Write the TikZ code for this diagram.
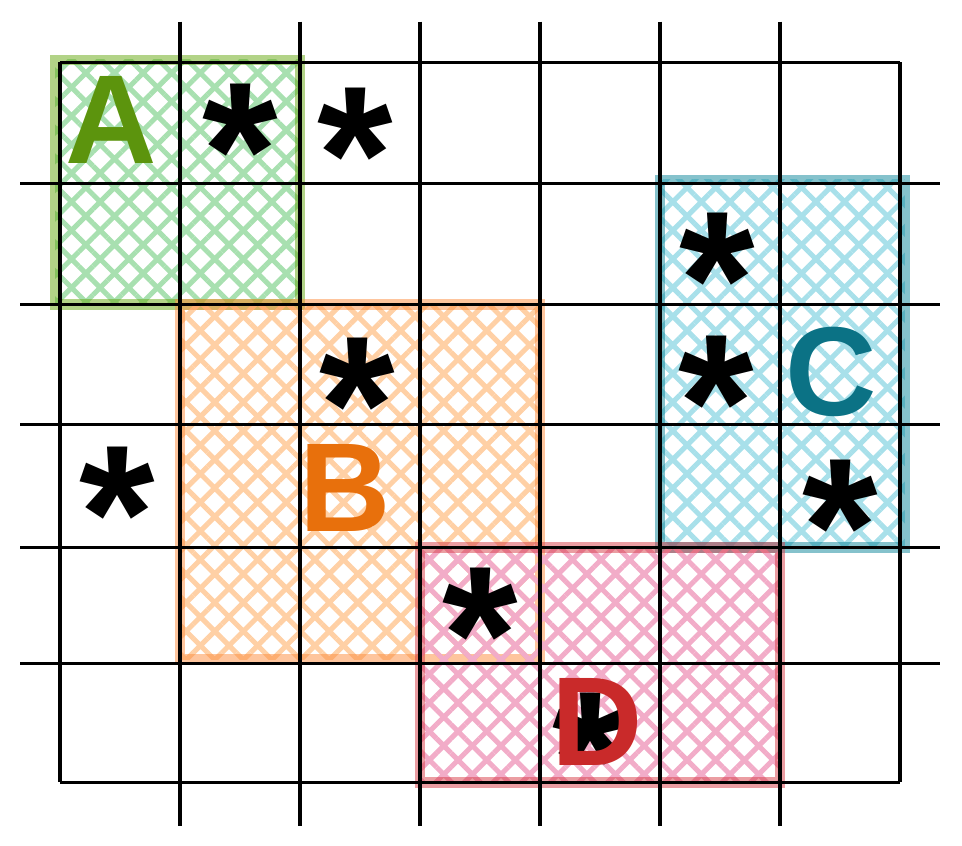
\documentclass[tikz,border=0pt]{standalone}
\definecolor{gridGreenFill}{RGB}{168,224,176}
\definecolor{gridGreenEdge}{RGB}{102,168,15}
\definecolor{gridGreenText}{RGB}{92,148,13}
\definecolor{gridOrangeFill}{RGB}{255,208,165}
\definecolor{gridOrangeEdge}{RGB}{253,140,60}
\definecolor{gridOrangeText}{RGB}{232,112,12}
\definecolor{gridCyanFill}{RGB}{168,224,234}
\definecolor{gridCyanEdge}{RGB}{12,133,153}
\definecolor{gridCyanText}{RGB}{11,114,133}
\definecolor{gridPinkFill}{RGB}{242,172,200}
\definecolor{gridPinkEdge}{RGB}{215,60,70}
\definecolor{gridPinkText}{RGB}{201,42,42}
\usepackage{tikz}
\usepackage{fontspec}
\setmainfont{Liberation Sans}
\usetikzlibrary{patterns.meta}

\begin{document}
\begin{tikzpicture}[
    y=-1cm,
    region/.style={pattern={Hatch[angle=45,distance=4.8pt,line width=1.2pt]}},
    rim/.style={line width=2.6pt, opacity=0.5},
    gridline/.style={line width=0.75pt, black},
    star/.style={font=\fontsize{46}{46}\selectfont\bfseries, inner sep=0pt, anchor=north},
    tag/.style={font=\fontsize{30}{30}\selectfont\bfseries, inner sep=0pt}
  ]
  \useasboundingbox (0,0) rectangle (8.017,7.05);
  \fill[region, pattern color=gridGreenFill] (0.46,0.50) rectangle (2.50,2.54);
  \draw[rim, gridGreenEdge] (0.46,0.50) rectangle (2.50,2.54);
  \fill[region, pattern color=gridOrangeFill] (1.50,2.54) rectangle (4.50,5.50);
  \draw[rim, gridOrangeEdge] (1.50,2.54) rectangle (4.50,5.50);
  \fill[region, pattern color=gridCyanFill] (5.50,1.50) rectangle (7.54,4.56);
  \draw[rim, gridCyanEdge] (5.50,1.50) rectangle (7.54,4.56);
  \fill[region, pattern color=gridPinkFill] (3.50,4.56) rectangle (6.50,6.52);
  \draw[rim, gridPinkEdge] (3.50,4.56) rectangle (6.50,6.52);
  \foreach \y in {1.53,2.54,3.54,4.56,5.53} {
    \draw[gridline] (0.17,\y) -- (7.83,\y);
  }
  \draw[gridline] (0.50,0.52) -- (7.50,0.52);
  \draw[gridline] (0.50,6.52) -- (7.50,6.52);
  \foreach \x in {1.5,2.5,3.5,4.5,5.5,6.5} {
    \draw[gridline] (\x,0.18) -- (\x,6.88);
  }
  \draw[gridline] (0.50,0.52) -- (0.50,6.52);
  \draw[gridline] (7.50,0.52) -- (7.50,6.52);
  \foreach \x/\y [count=\i] in {2.00/0.69, 2.96/0.73, 5.98/1.77, 2.98/2.81,
                      5.97/2.79, 0.98/3.72, 7.00/3.83, 4.00/4.73, 4.92/5.77} {
    \node[star] (s\i) at (\x,\y) {*};
  }
  \node[tag, gridGreenText] (labelA) at (0.93,1.00) {A};
  \node[tag, gridOrangeText] (labelB) at (2.88,4.07) {B};
  \node[tag, gridCyanText] (labelC) at (6.93,3.10) {C};
  \node[tag, gridPinkText] (labelD) at (4.98,6.02) {D};
\end{tikzpicture}
\end{document}
